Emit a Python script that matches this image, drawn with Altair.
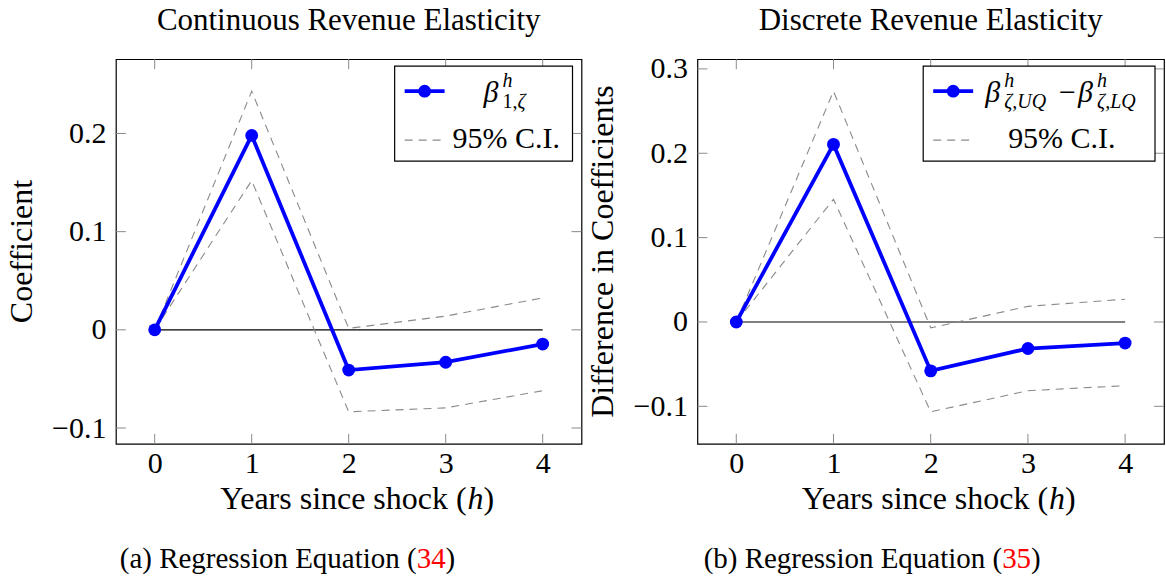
import altair as alt
import pandas as pd

# ---------------- data ----------------
h = [0, 1, 2, 3, 4]
x_ticks = [0, 1, 2, 3, 4]

a_coef = [0.0, 0.198, -0.041, -0.033, -0.0145]
a_upper = [0.0, 0.243, 0.0015, 0.014, 0.0325]
a_lower = [0.0, 0.152, -0.0835, -0.0795, -0.062]
a_yticks = [-0.1, 0.0, 0.1, 0.2]

b_coef = [0.0, 0.2105, -0.058, -0.0315, -0.025]
b_upper = [0.0, 0.2735, -0.007, 0.0185, 0.027]
b_lower = [0.0, 0.1455, -0.1065, -0.0815, -0.0755]
b_yticks = [-0.1, 0.0, 0.1, 0.2, 0.3]

titles = ["Continuous Revenue Elasticity", "Discrete Revenue Elasticity"]
ytitles = ["Coefficient", "Difference in Coefficients"]
captions = [("(a) Regression Equation (", "34"), ("(b) Regression Equation (", "35")]
ci_label = "95% C.I."

# ---------------- style ----------------
FONT = "Liberation Serif"
BLUE = "#0000ff"
GREY = "#8a8a8a"
H = 385
W1, W2 = 466, 467


def enlarged(lo_vals, hi_vals):
    lo, hi = min(lo_vals), max(hi_vals)
    r = hi - lo
    return [lo - 0.1 * r, hi + 0.1 * r]


def one():
    return alt.Chart(pd.DataFrame({"k": [0]}))


def txt(text, x, y, size, align="left", italic=False, color="black", angle=None):
    kw = dict(text=text, font=FONT, fontSize=size, align=align,
              baseline="alphabetic", color=color)
    if italic:
        kw["fontStyle"] = "italic"
    if angle is not None:
        kw["angle"] = angle
    return one().mark_text(**kw).encode(x=alt.value(x), y=alt.value(y))


def panel(coef, upper, lower, yticks, W, title, ytitle, caption,
          legend_texts, box_x0, sample_x0, ci_x, cap_x):
    df = pd.DataFrame({"h": h, "coef": coef, "upper": upper, "lower": lower})
    xs = alt.Scale(domain=[min(h) - 0.4, max(h) + 0.4], nice=False, zero=False)
    ys = alt.Scale(domain=enlarged(lower, upper), nice=False, zero=False)
    xax = alt.Axis(values=x_ticks, format="d", title=None, ticks=False, tickSize=0,
                   domain=False, grid=False, labelFont=FONT, labelFontSize=30,
                   labelColor="black", labelPadding=5)
    yax = alt.Axis(values=yticks, format=".1~f", title=None, ticks=False, tickSize=0,
                   domain=False, grid=False, labelFont=FONT, labelFontSize=30,
                   labelColor="black", labelPadding=10)
    X = alt.X("h:Q", scale=xs, axis=xax)

    def Y(f):
        return alt.Y(f, scale=ys, axis=yax)

    zero = alt.Chart(pd.DataFrame({"h": [min(h)], "h2": [max(h)], "z": [0.0]})).mark_rule(
        color="black", strokeWidth=1.1).encode(x=X, x2="h2:Q", y=Y("z:Q"))
    base = alt.Chart(df)
    dash = dict(color=GREY, strokeWidth=1.1, strokeDash=[8, 6])
    ci_up = base.mark_line(**dash).encode(x=X, y=Y("upper:Q"))
    ci_lo = base.mark_line(**dash).encode(x=X, y=Y("lower:Q"))
    line = base.mark_line(color=BLUE, strokeWidth=3.8).encode(x=X, y=Y("coef:Q"))
    pts = base.mark_point(filled=True, size=165, color=BLUE, opacity=1).encode(x=X, y=Y("coef:Q"))

    xt = alt.Chart(pd.DataFrame({"h": x_ticks}))
    yt = alt.Chart(pd.DataFrame({"v": yticks}))
    tk = dict(color=GREY, strokeWidth=1)
    t_bot = xt.mark_rule(**tk).encode(x=X, y=alt.value(H), y2=alt.value(H - 10))
    t_top = xt.mark_rule(**tk).encode(x=X, y=alt.value(0), y2=alt.value(10))
    t_left = yt.mark_rule(**tk).encode(y=Y("v:Q"), x=alt.value(0), x2=alt.value(10))
    t_right = yt.mark_rule(**tk).encode(y=Y("v:Q"), x=alt.value(W - 10), x2=alt.value(W))

    # legend
    box = one().mark_rect(fill="white", stroke="black", strokeWidth=1.2).encode(
        x=alt.value(box_x0), x2=alt.value(W - 9), y=alt.value(7), y2=alt.value(102))
    s_line = one().mark_rule(color=BLUE, strokeWidth=3.8).encode(
        x=alt.value(sample_x0), x2=alt.value(sample_x0 + 40), y=alt.value(32))
    s_pt = one().mark_point(filled=True, size=165, color=BLUE, opacity=1).encode(
        x=alt.value(sample_x0 + 20), y=alt.value(32))
    s_dash = one().mark_rule(**dash).encode(
        x=alt.value(sample_x0), x2=alt.value(sample_x0 + 40), y=alt.value(81))
    leg = [txt(*lt) for lt in legend_texts]
    leg.append(txt(ci_label, ci_x, 89, 30))

    # titles / axis titles / caption
    ttl = txt(title, W / 2, -29, 31, align="center")
    ytl = txt(ytitle, -84, H / 2, 32, align="center", angle=270)
    xa = txt("Years since shock (", 351, H + 65, 32, align="right")
    xb = txt("h", 352, H + 65, 32, italic=True)
    xc = txt(")", 368, H + 65, 32)
    ca = txt(caption[0], cap_x, H + 124, 29, align="right")
    cb = txt(caption[1], cap_x, H + 124, 29, color="#ff0000")
    cc = txt(")", cap_x + 29, H + 124, 29)

    layers = [zero, ci_up, ci_lo, line, pts, t_bot, t_top, t_left, t_right,
              box, s_line, s_pt, s_dash] + leg + [ttl, ytl, xa, xb, xc, ca, cb, cc]
    return alt.layer(*layers).properties(width=W, height=H)


# legend label pieces: (text, x, y, size, align, italic)
leg_a = [
    ("β", 368, 43, 30, "left", True),
    ("h", 387, 28, 20, "left", True),
    ("1,", 387, 49, 20, "left", False),
    ("ζ", 402, 49, 20, "left", True),
]
leg_b = [
    ("β", 288, 43, 30, "left", True),
    ("h", 307, 28, 20, "left", True),
    ("ζ,UQ", 307, 49, 20, "left", True),
    ("−", 362, 43, 30, "left", False),
    ("β", 381, 43, 30, "left", True),
    ("h", 400, 28, 20, "left", True),
    ("ζ,LQ", 400, 49, 20, "left", True),
]

p1 = panel(a_coef, a_upper, a_lower, a_yticks, W1, titles[0], ytitles[0], captions[0],
           leg_a, 279, 289, 337, 301)
p2 = panel(b_coef, b_upper, b_lower, b_yticks, W2, titles[1], ytitles[1], captions[1],
           leg_b, 226, 236, 311, 305)

chart = alt.hconcat(p1, p2, spacing=3).properties(
    padding={"left": 5, "top": 4, "right": 0, "bottom": 0},
    background="white",
).configure_view(stroke="black", strokeWidth=1.2)

chart.save("out.html", embed_options={"renderer": "svg", "actions": False})
